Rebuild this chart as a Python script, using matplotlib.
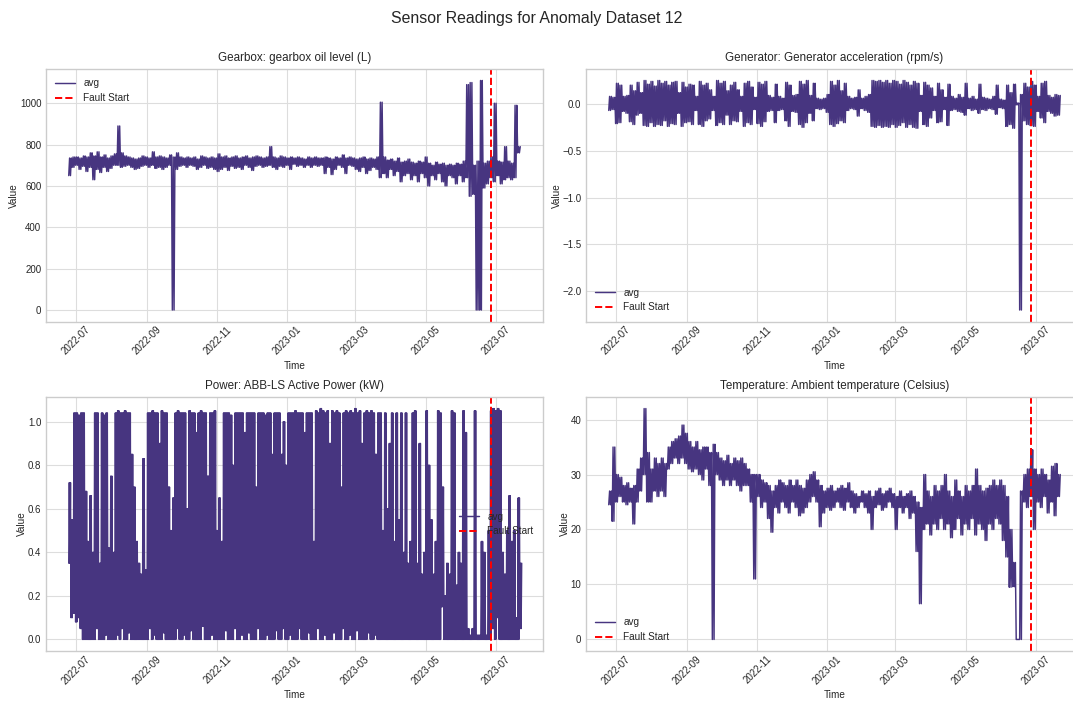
import numpy as np
import pandas as pd
import matplotlib
matplotlib.use('Agg')
import matplotlib.pyplot as plt
import matplotlib.dates as mdates

plt.style.use('seaborn-v0_8-whitegrid')
plt.rcParams['font.family'] = ['Liberation Sans', 'DejaVu Sans']

# ---------------- data (envelopes) ----------------
start_date = '2022-06-25'
fault_date = '2023-06-27'
bin_days = 3          # gearbox / generator / temperature bins
power_bin_days = 2    # power bins

gear_lo = [650, 690, 700, 680, 695, 670, 690, 630, 680, 665, 690, 670, 685, 700, 700, 690, 695, 700, 690, 680,
           685, 695, 700, 690, 700, 685, 690, 680, 690, 700, 0, 680, 695, 700, 690, 700, 695, 680, 690, 700,
           685, 690, 680, 670, 680, 690, 675, 695, 685, 690, 680, 700, 690, 675, 695, 700, 690, 695, 700, 690,
           680, 695, 690, 700, 680, 705, 695, 700, 690, 700, 690, 700, 695, 700, 660, 690, 655, 680, 700, 690,
           660, 700, 695, 680, 670, 690, 660, 675, 690, 680, 640, 660, 640, 680, 650, 670, 620, 650, 660, 630,
           650, 620, 660, 640, 600, 650, 630, 660, 620, 600, 650, 640, 610, 650, 620, 640, 550, 560, 0, 0,
           590, 610, 640, 620, 650, 610, 630, 640, 630, 640, 760]
gear_hi = [735, 740, 740, 735, 745, 740, 760, 745, 765, 740, 750, 735, 745, 755, 890, 760, 745, 740, 735, 730,
           735, 745, 740, 735, 765, 740, 745, 740, 735, 750, 740, 760, 740, 735, 740, 735, 740, 730, 745, 740,
           735, 740, 735, 755, 740, 745, 735, 740, 745, 735, 740, 745, 735, 740, 745, 740, 735, 740, 790, 740,
           735, 745, 740, 735, 740, 735, 740, 735, 730, 740, 735, 740, 735, 735, 740, 735, 730, 740, 735, 750,
           735, 740, 735, 730, 735, 740, 730, 735, 730, 740, 1005, 740, 725, 730, 720, 735, 715, 720, 730, 715,
           710, 720, 715, 740, 710, 700, 715, 705, 710, 700, 705, 700, 710, 705, 720, 1090, 1100, 700, 720, 1110,
           710, 720, 740, 1000, 720, 715, 790, 720, 710, 990, 790]

gen_lo = [-0.07, -0.06, -0.21, -0.20, -0.08, -0.10, -0.19, -0.22, -0.12, -0.10, -0.23, -0.24, -0.20, -0.24, -0.22,
          -0.23, -0.18, -0.24, -0.21, -0.22, -0.10, -0.24, -0.20, -0.19, -0.22, -0.07, -0.22, -0.24, -0.18, -0.16,
          -0.07, -0.23, -0.20, -0.22, -0.12, -0.22, -0.18, -0.19, -0.08, -0.24, -0.20, -0.22, -0.06, -0.21, -0.24,
          -0.19, -0.08, -0.07, -0.20, -0.07, -0.06, -0.18, -0.24, -0.08, -0.09, -0.22, -0.25, -0.20, -0.10, -0.18,
          -0.05, -0.06, -0.05, -0.09, -0.22, -0.24, -0.21, -0.18, -0.20, -0.07, -0.05, -0.06, -0.13, -0.05, -0.07,
          -0.09, -0.24, -0.25, -0.23, -0.25, -0.24, -0.25, -0.22, -0.25, -0.23, -0.20, -0.25, -0.22, -0.25, -0.26,
          -0.08, -0.22, -0.24, -0.15, -0.07, -0.20, -0.19, -0.06, -0.23, -0.07, -0.06, -0.08, -0.09, -0.12, -0.05,
          -0.07, -0.06, -0.10, -0.06, -0.07, -0.05, -0.06, -0.11, -0.04, -0.05, -0.24, -0.22, -0.26, -0.01, -2.20,
          -0.18, -0.22, -0.23, -0.24, -0.08, -0.15, -0.20, -0.08, -0.10, -0.13, -0.12]
gen_hi = [0.08, 0.07, 0.22, 0.20, 0.08, 0.09, 0.20, 0.14, 0.23, 0.12, 0.25, 0.21, 0.24, 0.19, 0.25,
          0.22, 0.24, 0.20, 0.23, 0.24, 0.12, 0.23, 0.18, 0.21, 0.20, 0.08, 0.24, 0.20, 0.22, 0.15,
          0.08, 0.25, 0.22, 0.24, 0.14, 0.20, 0.23, 0.15, 0.08, 0.22, 0.24, 0.18, 0.07, 0.23, 0.21,
          0.24, 0.09, 0.07, 0.21, 0.08, 0.06, 0.23, 0.20, 0.09, 0.10, 0.24, 0.21, 0.25, 0.09, 0.22,
          0.06, 0.05, 0.06, 0.10, 0.24, 0.20, 0.25, 0.14, 0.22, 0.08, 0.06, 0.07, 0.15, 0.06, 0.08,
          0.10, 0.25, 0.24, 0.25, 0.23, 0.25, 0.22, 0.25, 0.24, 0.21, 0.25, 0.23, 0.20, 0.24, 0.22,
          0.09, 0.23, 0.20, 0.17, 0.08, 0.22, 0.15, 0.07, 0.21, 0.08, 0.06, 0.10, 0.07, 0.22, 0.06,
          0.08, 0.05, 0.21, 0.07, 0.06, 0.05, 0.08, 0.20, 0.05, 0.04, 0.20, 0.12, 0.21, 0.01, 0.10,
          0.22, 0.18, 0.24, 0.20, 0.08, 0.22, 0.24, 0.09, 0.07, 0.10, 0.09]

power_lo = [0.35, 0.10, 0.12, 0.08, 0.10, 0.05, 0.00, 0.00, 0.00, 0.00, 0.00, 0.00, 0.05, 0.00, 0.00, 0.00, 0.02, 0.00, 0.00, 0.00,
            0.00, 0.02, 0.00, 0.05, 0.00, 0.00, 0.03, 0.00, 0.00, 0.00, 0.00, 0.00, 0.00, 0.00, 0.00, 0.05, 0.00, 0.02, 0.00, 0.00,
            0.00, 0.03, 0.00, 0.00, 0.00, 0.00, 0.00, 0.05, 0.00, 0.00, 0.02, 0.00, 0.00, 0.04, 0.00, 0.00, 0.00, 0.00, 0.06, 0.00,
            0.00, 0.00, 0.02, 0.00, 0.00, 0.00, 0.00, 0.00, 0.04, 0.00, 0.00, 0.00, 0.05, 0.00, 0.00, 0.02, 0.00, 0.00, 0.03, 0.00,
            0.00, 0.00, 0.05, 0.00, 0.00, 0.00, 0.02, 0.00, 0.00, 0.00, 0.04, 0.00, 0.00, 0.05, 0.00, 0.00, 0.02, 0.00, 0.00, 0.00,
            0.05, 0.00, 0.00, 0.00, 0.03, 0.00, 0.00, 0.00, 0.05, 0.00, 0.00, 0.02, 0.00, 0.00, 0.00, 0.03, 0.00, 0.00, 0.00, 0.05,
            0.00, 0.00, 0.02, 0.00, 0.00, 0.04, 0.00, 0.00, 0.00, 0.00, 0.03, 0.00, 0.00, 0.02, 0.00, 0.00, 0.00, 0.00, 0.00, 0.00,
            0.00, 0.00, 0.00, 0.00, 0.00, 0.00, 0.00, 0.00, 0.00, 0.00, 0.00, 0.00, 0.00, 0.00, 0.00, 0.00, 0.00, 0.00, 0.00, 0.00,
            0.00, 0.00, 0.15, 0.00, 0.00, 0.00, 0.00, 0.00, 0.00, 0.00, 0.00, 0.00, 0.00, 0.00, 0.00, 0.00, 0.00, 0.00, 0.00, 0.00,
            0.00, 0.00, 0.00, 0.00, 0.05, 0.00, 0.10, 0.00, 0.00, 0.00, 0.00, 0.00, 0.00, 0.00, 0.00, 0.00, 0.05]
power_hi = [0.72, 0.55, 1.04, 1.04, 1.03, 1.04, 1.04, 0.68, 0.45, 0.66, 0.40, 1.04, 1.04, 0.35, 1.04, 1.03, 1.04, 0.42, 0.75, 0.40,
            1.04, 1.05, 1.04, 1.04, 1.05, 1.04, 1.04, 0.85, 0.70, 0.45, 0.35, 0.30, 0.83, 0.32, 1.04, 1.04, 1.05, 1.04, 1.04, 0.90,
            1.05, 1.04, 1.04, 0.70, 0.50, 0.65, 1.04, 1.05, 1.04, 1.04, 1.04, 0.60, 1.05, 1.04, 1.04, 0.95, 1.04, 1.05, 1.04, 1.04,
            0.75, 1.04, 1.04, 1.05, 0.50, 0.65, 0.45, 1.04, 1.04, 1.04, 1.03, 0.80, 1.04, 1.04, 1.04, 1.04, 0.95, 1.04, 1.04, 1.04,
            1.04, 0.70, 1.04, 1.04, 1.04, 1.03, 1.04, 1.04, 0.85, 1.04, 1.04, 1.04, 0.85, 1.00, 0.80, 1.04, 1.04, 1.04, 1.05, 1.04,
            1.04, 1.04, 0.95, 1.04, 1.04, 1.04, 0.45, 1.05, 1.04, 1.06, 1.05, 1.04, 1.05, 0.90, 1.05, 1.04, 1.05, 1.04, 0.70, 1.04,
            1.05, 1.04, 1.05, 1.04, 1.06, 1.04, 1.05, 0.90, 1.04, 1.05, 1.04, 1.05, 1.04, 0.85, 1.04, 1.04, 0.50, 1.04, 0.60, 0.90,
            1.04, 0.45, 1.04, 0.55, 1.04, 0.40, 1.04, 0.35, 0.45, 1.04, 1.05, 0.35, 0.90, 0.30, 0.40, 1.05, 0.80, 0.55, 0.30, 0.45,
            1.05, 1.04, 0.70, 0.20, 0.35, 0.30, 1.05, 1.04, 0.25, 0.40, 0.35, 1.05, 0.95, 0.05, 0.02, 0.05, 1.05, 0.02, 0.02, 0.45,
            0.40, 0.02, 0.50, 1.05, 1.06, 1.05, 1.06, 1.05, 0.40, 0.30, 0.50, 0.66, 0.45, 0.50, 0.10, 0.65, 0.35]

temp_lo = [24.5, 21.5, 25, 26, 25, 24.5, 25, 21, 25, 27, 30, 25, 25, 27, 26, 27, 26, 31, 32, 33,
           32, 33, 32, 31, 30.5, 31, 30, 29, 31, 28, 0, 30, 29, 28, 29, 28, 29, 28, 27, 28,
           28, 25, 11, 26, 24, 25, 22, 19.5, 24, 23, 25, 24, 23, 25, 24, 22.5, 23, 24, 25, 26,
           25, 20.5, 23, 24, 23.5, 24, 25, 24, 23.5, 25, 24, 23, 24, 25, 24, 23, 20, 24, 24.5, 23.5,
           24, 25, 24, 20, 24, 23, 24, 22, 23, 16, 6.5, 20, 21, 19, 21, 20, 22, 20, 21, 18.5,
           20, 22, 19, 21, 20, 22, 19, 21, 20, 18, 21, 20, 22, 21, 18, 15, 9.5, 9.6, 0, 0,
           25, 24, 26, 20, 25, 24, 26, 23, 25, 22.5, 26]
temp_hi = [27, 35, 30, 29.5, 28, 28.5, 27.5, 28, 31, 33, 42, 34, 31, 33, 32, 33, 32, 35, 36, 36.5,
           37, 39, 37.5, 36, 35, 36, 34.5, 35, 35, 34, 35.5, 34, 33, 32.5, 33.5, 32, 33, 32.5, 33, 32,
           31, 30, 30, 30, 29, 28.5, 28, 27, 28, 29, 28.5, 28, 29, 28, 29, 28, 27.5, 29, 30, 30.5,
           29, 28, 27, 27.5, 28, 27, 27.5, 28, 27.5, 28.5, 27, 26.5, 26, 27, 26.5, 27, 26, 27, 27.5, 26.5,
           27, 27.5, 26.5, 26, 27, 26, 26.5, 27, 26, 25, 24, 30, 27, 26, 28, 27, 28, 30, 27, 26,
           29, 27, 26, 28, 27, 28, 31, 28, 27, 27.5, 28, 29, 28, 29, 28, 26, 20, 14, 0, 27,
           30, 31, 34.5, 31, 30, 31, 30, 29, 31.5, 32, 30]

panels = [
    ('Gearbox: gearbox oil level (L)', gear_lo, gear_hi, bin_days, 'upper left'),
    ('Generator: Generator acceleration (rpm/s)', gen_lo, gen_hi, bin_days, 'lower left'),
    ('Power: ABB-LS Active Power (kW)', power_lo, power_hi, power_bin_days, 'center right'),
    ('Temperature: Ambient temperature (Celsius)', temp_lo, temp_hi, bin_days, 'lower left'),
]

line_color = '#473580'
swings_per_bin = 2


def envelope_series(lo, hi, step):
    """Trace each bin's low/high envelope as a dense up-down line."""
    n = len(lo)
    m = 2 * swings_per_bin
    base = pd.Timestamp(start_date)
    offs = np.arange(n)[:, None] * step + np.arange(m)[None, :] * (step / m)
    t = base + pd.to_timedelta(offs.ravel(), unit='D')
    v = np.empty((n, m))
    v[:, 0::2] = np.asarray(lo, dtype=float)[:, None]
    v[:, 1::2] = np.asarray(hi, dtype=float)[:, None]
    return t, v.ravel()


fig = plt.figure(figsize=(10.73, 7.02), dpi=100)
W, H = 1073.0, 702.0
col_left = [46.2, 586.2]
col_w = 496.3
rows = [(69.0, 321.5), (397.0, 651.0)]

xmin = pd.Timestamp('2022-06-05 10:00')
xmax = pd.Timestamp('2023-08-10 14:00')

for k, (title, lo, hi, step, loc) in enumerate(panels):
    r, c = divmod(k, 2)
    top, bot = rows[r]
    ax = fig.add_axes([col_left[c] / W, 1 - bot / H, col_w / W, (bot - top) / H])
    t, v = envelope_series(lo, hi, step)
    ax.plot(t, v, color=line_color, lw=1.05, label='avg')
    ax.axvline(pd.Timestamp(fault_date), color='red', ls='--', lw=1.4, label='Fault Start')
    ax.set_xlim(xmin, xmax)
    ax.set_title(title, fontsize=8.4, color='#262626')
    ax.set_xlabel('Time', fontsize=7.2, labelpad=3)
    ax.set_ylabel('Value', fontsize=7.2, labelpad=0.5)
    ax.xaxis.set_major_locator(mdates.MonthLocator(bymonth=[1, 3, 5, 7, 9, 11]))
    ax.xaxis.set_major_formatter(mdates.DateFormatter('%Y-%m'))
    ax.tick_params(axis='x', rotation=45, labelsize=7.0, pad=2)
    ax.tick_params(axis='y', labelsize=7.0)
    for s in ax.spines.values():
        s.set_color('#cccccc')
    ax.grid(True, color='#dddddd', lw=0.8)
    ax.legend(loc=loc, fontsize=7.2, frameon=False)

fig.suptitle('Sensor Readings for Anomaly Dataset 12', fontsize=11.4, y=1 - 18 / H, va='center')
fig.savefig('out.png', dpi=100)
